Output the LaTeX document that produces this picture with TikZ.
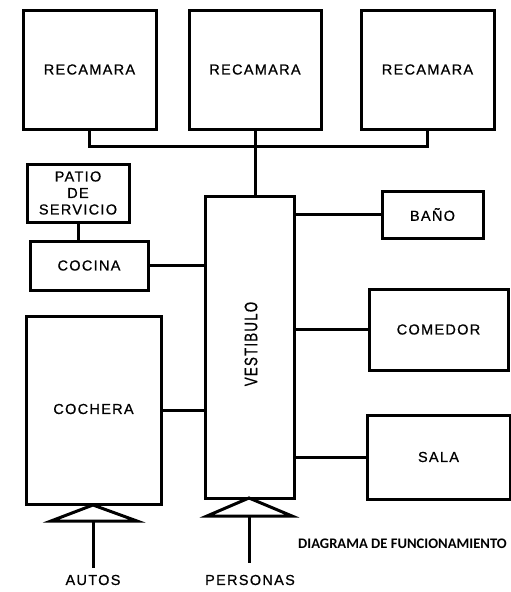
\documentclass[tikz,border=0pt]{standalone}
\usepackage{fontspec}
\setmainfont{Liberation Sans}[LetterSpace=9,FakeBold=0.7]
\newfontfamily\titlefont{Carlito}[BoldFont={Carlito Bold}]
\usepackage{graphicx}
\begin{document}
\begin{tikzpicture}[x=1pt,y=-1pt,
  room/.style={draw=black,line width=3pt,inner sep=0pt,fill=white,
    font=\fontsize{14.5}{16.5}\selectfont,align=center},
  link/.style={line width=3pt},
  lbl/.style={inner sep=0pt,font=\fontsize{14.5}{16}\selectfont}]
\useasboundingbox[fill=white] (0,0) rectangle (511,592);
% rooms
\node[room,minimum width=133pt,minimum height=119pt] (rec1) at (89.5,69.5) {RECAMARA};
\node[room,minimum width=132pt,minimum height=119pt] (rec2) at (255,69.5) {RECAMARA};
\node[room,minimum width=133pt,minimum height=119pt] (rec3) at (427.5,69.5) {RECAMARA};
\node[room,minimum width=102pt,minimum height=58pt] (patio) at (78,193) {PATIO\\DE\\SERVICIO};
\node[room,minimum width=118pt,minimum height=49pt] (cocina) at (89,265.5) {COCINA};
\node[room,minimum width=89pt,minimum height=302pt] (vest) at (249.5,347) {};
\node[lbl,rotate=90] (vestlbl) at (251,344) {\fontsize{18}{18}\selectfont\scalebox{0.74}[1]{VESTIBULO}};
\node[room,minimum width=101pt,minimum height=47pt] (bano) at (432.5,214.5) {BAÑO};
\node[room,minimum width=139pt,minimum height=81pt] (comedor) at (438.5,329.5) {COMEDOR};
\node[room,minimum width=135pt,minimum height=188pt] (cochera) at (93.5,410) {};
\node[lbl] (cocheralbl) at (93.5,409) {COCHERA};
\node[room,minimum width=143pt,minimum height=84pt] (sala) at (438.5,457) {SALA};
% connectors
\coordinate (bus) at (255,146);
\draw[link] (rec1.south) |- (bus) -| (rec3.south);
\draw[link] (rec2.south) -- (rec2.south |- vest.north);
\draw[link] (patio.south) -- (patio.south |- cocina.north);
\draw[link] (cocina.east) -- (cocina.east -| vest.west);
\draw[link] (cochera.east) -- (cochera.east -| vest.west);
\draw[link] (bano.west) -- (bano.west -| vest.east);
\draw[link] (comedor.west) -- (comedor.west -| vest.east);
\draw[link] (sala.west) -- (sala.west -| vest.east);
% entrances
\coordinate (a1) at (93,505);
\coordinate (a2) at (51,521);
\coordinate (a3) at (137,521);
\coordinate (ab) at (93,521);
\node[lbl] (autos) at (93,580) {AUTOS};
\coordinate (autostop) at (93,568);
\draw[link,line join=miter] (a1) -- (a2) -- (a3) -- cycle;
\draw[link] (ab) -- (autostop);
\coordinate (p1) at (249,498);
\coordinate (p2) at (207,516);
\coordinate (p3) at (292,516);
\coordinate (pb) at (249,516);
\node[lbl] (personas) at (250,580) {PERSONAS};
\coordinate (perstop) at (249,563);
\draw[link,line join=miter] (p1) -- (p2) -- (p3) -- cycle;
\draw[link] (pb) -- (perstop);
% title
\node[inner sep=0pt,anchor=west,font=\titlefont\bfseries\fontsize{14.6}{15}\selectfont] (title) at (298,544) {DIAGRAMA DE FUNCIONAMIENTO};
\end{tikzpicture}
\end{document}
